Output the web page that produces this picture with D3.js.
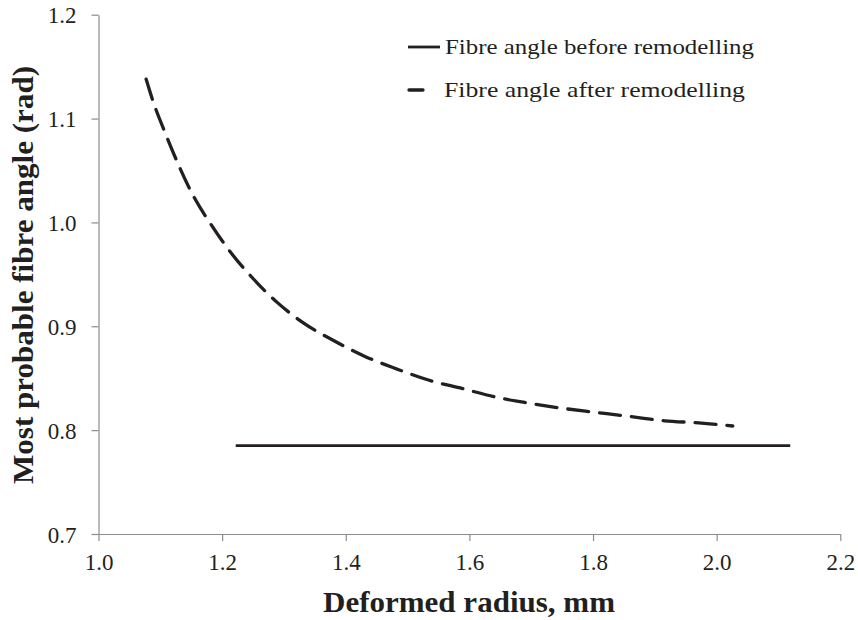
<!DOCTYPE html>
<html>
<head>
<meta charset="utf-8">
<script src="https://cdn.jsdelivr.net/npm/d3@7"></script>
<style>
  body { margin: 0; background: #fff; }
  svg text { font-family: "Liberation Serif", "Times New Roman", serif; fill: #231f20; }
</style>
</head>
<body>
<svg id="chart" width="858" height="620"></svg>
<script>
// data
var beforeX = [1.222, 1.4, 1.6, 1.8, 2.0, 2.119];
var beforeY = [0.785, 0.785, 0.785, 0.785, 0.785, 0.785];

var afterX = [1.077, 1.088, 1.108, 1.129, 1.153, 1.182, 1.214, 1.250, 1.289, 1.332, 1.381, 1.431,
	1.482, 1.535, 1.589, 1.641, 1.696, 1.751, 1.806, 1.861, 1.916, 1.971, 2.026];
var afterY = [1.138, 1.117, 1.086, 1.056, 1.026, 0.998, 0.971, 0.946, 0.923, 0.903, 0.886, 0.871,
	0.859, 0.848, 0.840, 0.832, 0.826, 0.821, 0.817, 0.813, 0.809, 0.807, 0.804];

var xTicks = [1.0, 1.2, 1.4, 1.6, 1.8, 2.0, 2.2];
var yTicks = [0.7, 0.8, 0.9, 1.0, 1.1, 1.2];
var legendLabels = ["Fibre angle before remodelling", "Fibre angle after remodelling"];

var margin = { top: 14.7, right: 17.7, bottom: 86, left: 98.5 };
var width = 858 - margin.left - margin.right;
var height = 620 - margin.top - margin.bottom;

var svg = d3.select("#chart");
var g = svg.append("g").attr("transform", "translate(" + margin.left + "," + margin.top + ")");

var x = d3.scaleLinear().domain([1.0, 2.2]).range([0, width]);
var y = d3.scaleLinear().domain([0.7, 1.2]).range([height, 0]);

var axisColor = "#8c8c8c";

var xAxis = g.append("g")
	.attr("transform", "translate(0," + height + ")")
	.call(d3.axisBottom(x).tickValues(xTicks).tickFormat(d3.format(".1f")).tickSizeInner(7).tickSizeOuter(0).tickPadding(6));
var yAxis = g.append("g")
	.call(d3.axisLeft(y).tickValues(yTicks).tickFormat(d3.format(".1f")).tickSizeInner(7).tickSizeOuter(0).tickPadding(15));

[xAxis, yAxis].forEach(function (a) {
	a.select(".domain").attr("stroke", axisColor).attr("stroke-width", 1.2);
	a.selectAll(".tick line").attr("stroke", axisColor).attr("stroke-width", 1.2);
	a.selectAll(".tick text")
		.style("font-family", "'Liberation Serif', 'Times New Roman', serif")
		.attr("font-size", 23)
		.attr("fill", "#231f20");
});
xAxis.selectAll(".tick text").attr("dy", "0.98em");
yAxis.selectAll(".tick text").attr("dy", "0.36em");

// series
var line = d3.line()
	.x(function (d) { return x(d[0]); })
	.y(function (d) { return y(d[1]); })
	.curve(d3.curveMonotoneX);

var before = d3.zip(beforeX, beforeY);
var after = d3.zip(afterX, afterY);

g.append("path")
	.datum(before)
	.attr("d", line)
	.attr("fill", "none")
	.attr("stroke", "#231f20")
	.attr("stroke-width", 2.8);

g.append("path")
	.datum(after)
	.attr("d", line)
	.attr("fill", "none")
	.attr("stroke", "#231f20")
	.attr("stroke-width", 3.3)
	.attr("stroke-dasharray", "21,11")
	.attr("stroke-linecap", "round");

// legend
var legend = svg.append("g");
legend.append("line")
	.attr("x1", 408).attr("x2", 440).attr("y1", 47).attr("y2", 47)
	.attr("stroke", "#231f20").attr("stroke-width", 2.8);
legend.append("line")
	.attr("x1", 409).attr("x2", 423).attr("y1", 90).attr("y2", 90)
	.attr("stroke", "#231f20").attr("stroke-width", 3.3).attr("stroke-linecap", "round");
legend.append("text")
	.attr("x", 445).attr("y", 54)
	.attr("font-size", 22)
	.attr("textLength", 309)
	.attr("lengthAdjust", "spacingAndGlyphs")
	.text(legendLabels[0]);
legend.append("text")
	.attr("x", 444).attr("y", 97)
	.attr("font-size", 22)
	.attr("textLength", 301)
	.attr("lengthAdjust", "spacingAndGlyphs")
	.text(legendLabels[1]);

// axis titles
svg.append("text")
	.attr("x", 469)
	.attr("y", 612)
	.attr("text-anchor", "middle")
	.attr("font-size", 29)
	.attr("font-weight", "bold")
	.attr("textLength", 292)
	.attr("lengthAdjust", "spacingAndGlyphs")
	.text("Deformed radius, mm");

svg.append("text")
	.attr("transform", "translate(33," + 275 + ") rotate(-90)")
	.attr("text-anchor", "middle")
	.attr("font-size", 29)
	.attr("font-weight", "bold")
	.attr("textLength", 418)
	.attr("lengthAdjust", "spacingAndGlyphs")
	.text("Most probable fibre angle (rad)");
</script>
</body>
</html>
